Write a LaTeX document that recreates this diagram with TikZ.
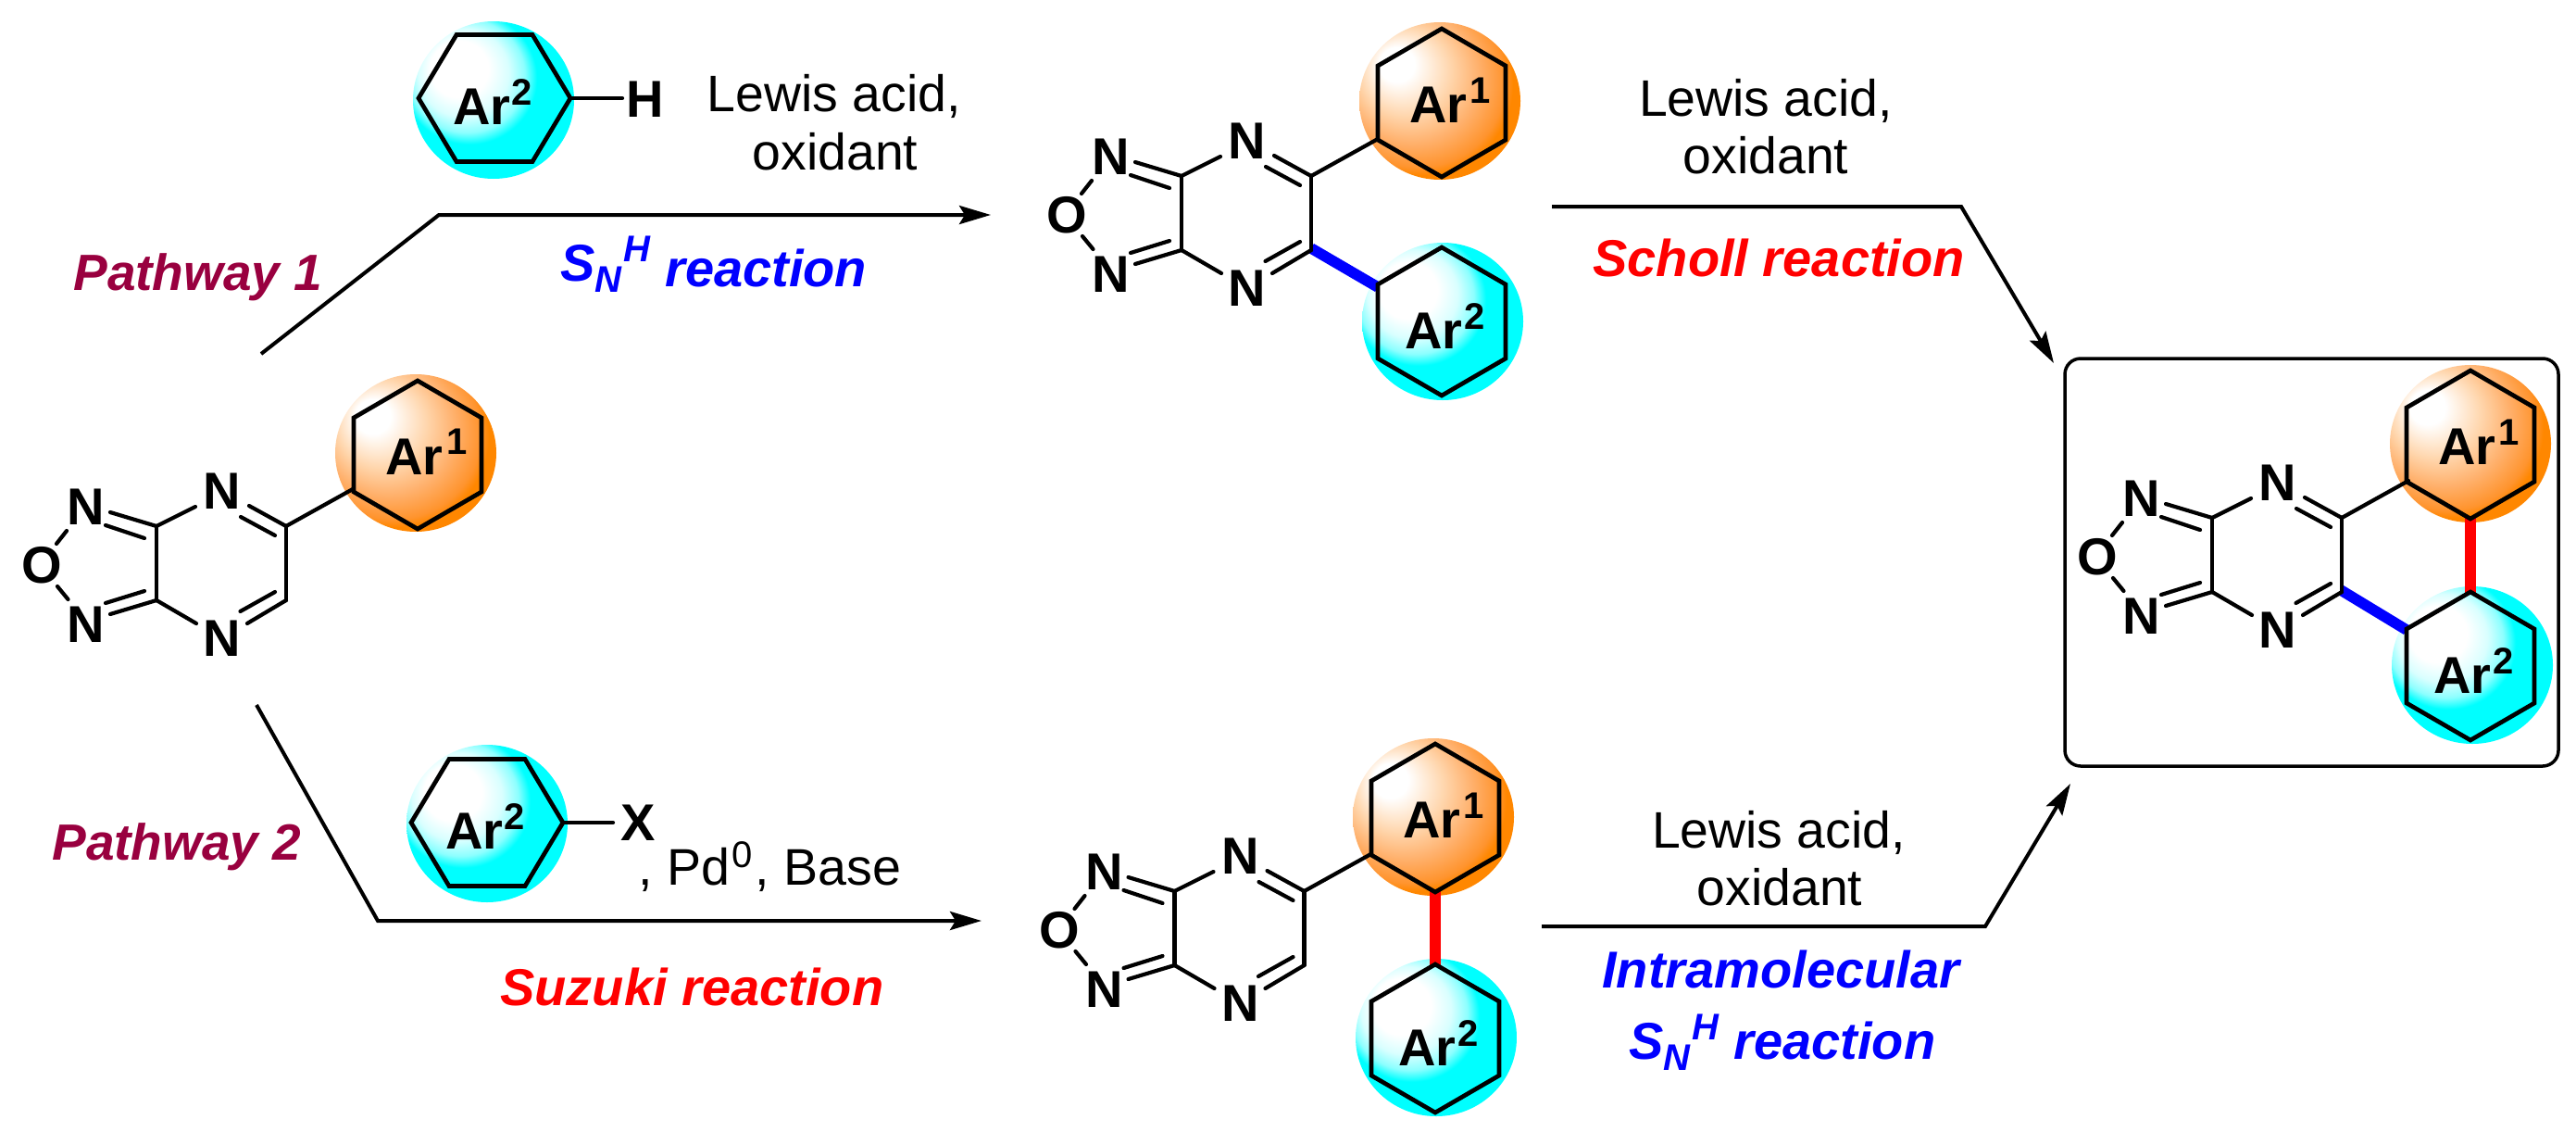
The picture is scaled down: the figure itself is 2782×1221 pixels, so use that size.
\documentclass[tikz,border=0pt]{standalone}
\usepackage{fontspec}
\setmainfont{Liberation Sans}
\usetikzlibrary{arrows.meta}
\definecolor{pathcol}{HTML}{99003F}
\pgfdeclareradialshading{ballorange}{\pgfpoint{-15bp}{13bp}}{%
  rgb(0bp)=(1,1,1);rgb(5.5bp)=(1,1,1);rgb(14bp)=(1,0.84,0.68);rgb(21bp)=(1,0.69,0.42);rgb(27bp)=(1,0.58,0.18);rgb(29bp)=(1,0.53,0);rgb(50bp)=(1,0.53,0)}
\pgfdeclareradialshading{ballcyan}{\pgfpoint{-13bp}{12bp}}{%
  rgb(0bp)=(1,1,1);rgb(9bp)=(1,1,1);rgb(14bp)=(0.85,1,1);rgb(18bp)=(0.55,1,1);rgb(21bp)=(0,1,1);rgb(50bp)=(0,1,1)}
\tikzset{
  bond/.style={line width=2.1pt,line cap=round,black},
  ringline/.style={line width=2.35pt,line join=miter,black},
  atom/.style={inner sep=0pt,font=\fontsize{28pt}{30pt}\selectfont\bfseries},
  artext/.style={inner sep=0pt,anchor=base west,font=\fontsize{28pt}{30pt}\selectfont\bfseries},
  supdigit/.style={inner sep=0pt,anchor=base west,font=\fontsize{20pt}{22pt}\selectfont\bfseries},
  plain/.style={inner sep=0pt,anchor=base,font=\fontsize{27.7pt}{30pt}\selectfont},
  pathlabel/.style={inner sep=0pt,anchor=base west,text=pathcol,font=\fontsize{27.5pt}{30pt}\selectfont\bfseries\itshape},
  labelw/.style={inner sep=0pt,anchor=base west,font=\fontsize{28pt}{30pt}\selectfont\bfseries\itshape},
  rxn/.style={line width=2pt,line join=miter,-{Stealth[length=17pt,width=10pt,inset=3pt]}},
  colbond/.style={line width=5.8pt,line cap=butt}
}
% pyrazine-furazan core: #1 name, (#2,#3) carbon at top-left of the six-ring
\newcommand{\corering}[3]{%
  \begin{scope}[shift={(#2,#3)}]
    \draw[bond] (0,0) -- (0,80);
    \draw[bond] (0,0) -- (42,-21);
    \draw[bond] (140,0) -- (100,-22);
    \draw[bond] (128,10) -- (91,-10);
    \draw[bond] (140,0) -- (140,80);
    \draw[bond] (140,80) -- (98,105);
    \draw[bond] (128,71) -- (90.5,92);
    \draw[bond] (0,80) -- (43,105);
    \draw[bond] (0,0) -- (-50,-15);
    \draw[bond] (-13,13) -- (-55,-1);
    \draw[bond] (0,80) -- (-50,95);
    \draw[bond] (-13,70) -- (-55,83);
    \draw[bond] (-97,5) -- (-108,19);
    \draw[bond] (-107,65) -- (-95.5,79);
    \draw[bond] (140,0) -- (212,-40);
    \node[atom] (#1Nt) at (71,-38) {N};
    \node[atom] (#1Nb) at (71,121) {N};
    \node[atom] (#1Nl) at (-76,-21) {N};
    \node[atom] (#1Nm) at (-76,106) {N};
    \node[atom] (#1O) at (-124,42) {O};
  \end{scope}}
% ball under a hexagon
\newcommand{\ballAt}[3]{\shade[shading=#3] (#1,#2) ellipse [x radius=87,y radius=85];}
% point-top hexagon, centre (#1,#2), label digit #3
\newcommand{\hexup}[4]{%
  \begin{scope}[shift={(#1,#2)}]
    \draw[ringline] (0,-80) -- (69,-40) -- (69,40) -- (0,80) -- (-69,40) -- (-69,-40) -- cycle;
    \node[artext] at (#4) {Ar};
  \end{scope}}
% flat-top hexagon
\newcommand{\hexflat}[2]{%
  \begin{scope}[shift={(#1,#2)}]
    \draw[ringline] (-82,0) -- (-41,-68.5) -- (41,-68.5) -- (82,0) -- (41,68.5) -- (-41,68.5) -- cycle;
  \end{scope}}
\newcommand{\snhtext}[1]{%
  S\rlap{\raisebox{-6.2pt}{\fontsize{20pt}{22pt}\selectfont N}}%
  \rlap{\hspace{15.3pt}\raisebox{10.5pt}{\fontsize{20pt}{22pt}\selectfont H}}%
  \hspace{37.8pt}\raisebox{#1}{reaction}}
\begin{document}
\begin{tikzpicture}[x=0.5pt,y=-0.5pt]
\useasboundingbox (0,0) rectangle (2782,1221);
\fill[white] (0,0) rectangle (2782,1221);

% ===== balls =====
\ballAt{449}{489}{ballorange}
\ballAt{533}{108}{ballcyan}
\ballAt{526}{889}{ballcyan}
\ballAt{1555}{109}{ballorange}
\ballAt{1558}{347}{ballcyan}
\ballAt{1548}{882}{ballorange}
\ballAt{1551}{1120}{ballcyan}
\ballAt{2668}{479}{ballorange}
\ballAt{2670}{718}{ballcyan}

% ===== coloured bonds =====
\draw[colbond,blue] (1416,268) -- (1488,310);
\draw[colbond,red] (1550,960) -- (1550,1042);
\draw[colbond,red] (2668,558) -- (2668,641);
\draw[colbond,blue] (2528,637) -- (2599,680);

% ===== left substrate =====
\corering{a}{169}{568}
\hexup{451}{491}{1}{-35,21}
\node[supdigit] at (482,490) {1};

% ===== reagent, top =====
\hexflat{534}{106}
\node[artext] at (489,134) {Ar};
\node[supdigit] at (552,113) {2};
\node[atom] (hatom) at (697,107) {H};
\coordinate (hbond) at (616,106);
\draw[bond] (hbond) -- (672,106);

% ===== reagent, bottom =====
\hexflat{526}{888}
\node[artext] at (481,916) {Ar};
\node[supdigit] at (544,895) {2};
\node[atom] (xatom) at (689,888) {X};
\coordinate (xbond) at (608,888);
\draw[bond] (xbond) -- (662,888);
\node[inner sep=0pt,anchor=base west,font=\fontsize{27.8pt}{30pt}\selectfont] (pd) at (689,955)
  {, Pd\kern1pt\raisebox{9.5pt}{\fontsize{20pt}{22pt}\selectfont 0}\kern1.5pt, Base};

% ===== top product =====
\corering{b}{1276}{190}
\hexup{1557}{111}{1}{-35,21}
\node[supdigit] at (1587,111) {1};
\hexup{1557}{347}{2}{-40,29}
\node[supdigit] at (1581,355) {2};

% ===== bottom product =====
\corering{c}{1268.5}{962}
\hexup{1550}{883}{1}{-35,21}
\node[supdigit] at (1580,883) {1};
\hexup{1550}{1121}{2}{-40,29}
\node[supdigit] at (1574,1129) {2};

% ===== final product =====
\draw[line width=1.75pt,rounded corners=8.5pt] (2230,387) rectangle (2763,827);
\corering{d}{2389}{559}
\hexup{2668}{480}{1}{-35,21}
\node[supdigit] at (2698,480) {1};
\hexup{2668}{719}{2}{-40,29}
\node[supdigit] at (2692,727) {2};

% ===== arrows =====
\coordinate (p1s) at (282,382);
\coordinate (p1k) at (474,232);
\coordinate (p1t) at (1070,232);
\coordinate (p2s) at (277,761);
\coordinate (p2k) at (408,994);
\coordinate (p2t) at (1060,994);
\coordinate (p3s) at (1676,223);
\coordinate (p3k) at (2118,223);
\coordinate (p3t) at (2218,392);
\coordinate (p4s) at (1665,1000);
\coordinate (p4k) at (2144,1000);
\coordinate (p4t) at (2236,846);
\draw[rxn] (p1s) -- (p1k) -- (p1t);
\draw[rxn] (p2s) -- (p2k) -- (p2t);
\draw[rxn] (p3s) -- (p3k) -- (p3t);
\draw[rxn] (p4s) -- (p4k) -- (p4t);

% ===== conditions =====
\node[plain] (l1a) at (901,120) {Lewis acid,};
\node[plain] (l1b) at (902,183) {oxidant};
\node[plain] (l2a) at (1907,125) {Lewis acid,};
\node[plain] (l2b) at (1907,187) {oxidant};
\node[plain] (l3a) at (1921,915) {Lewis acid,};
\node[plain] (l3b) at (1922,977) {oxidant};

% ===== labels =====
\node[pathlabel] (pw1) at (79,313) {Pathway 1};
\node[pathlabel] (pw2) at (56,928) {Pathway 2};
\node[labelw,text=blue] (sn1) at (605,303) {\snhtext{-3pt}};
\node[labelw,text=red] (su) at (540,1085) {Suzuki reaction};
\node[labelw,text=red] (sc) at (1720,298) {Scholl reaction};
\node[labelw,text=blue] (im) at (1730,1066) {Intramolecular};
\node[labelw,text=blue] (sn2) at (1759,1143) {\snhtext{0pt}};
\end{tikzpicture}
\end{document}
